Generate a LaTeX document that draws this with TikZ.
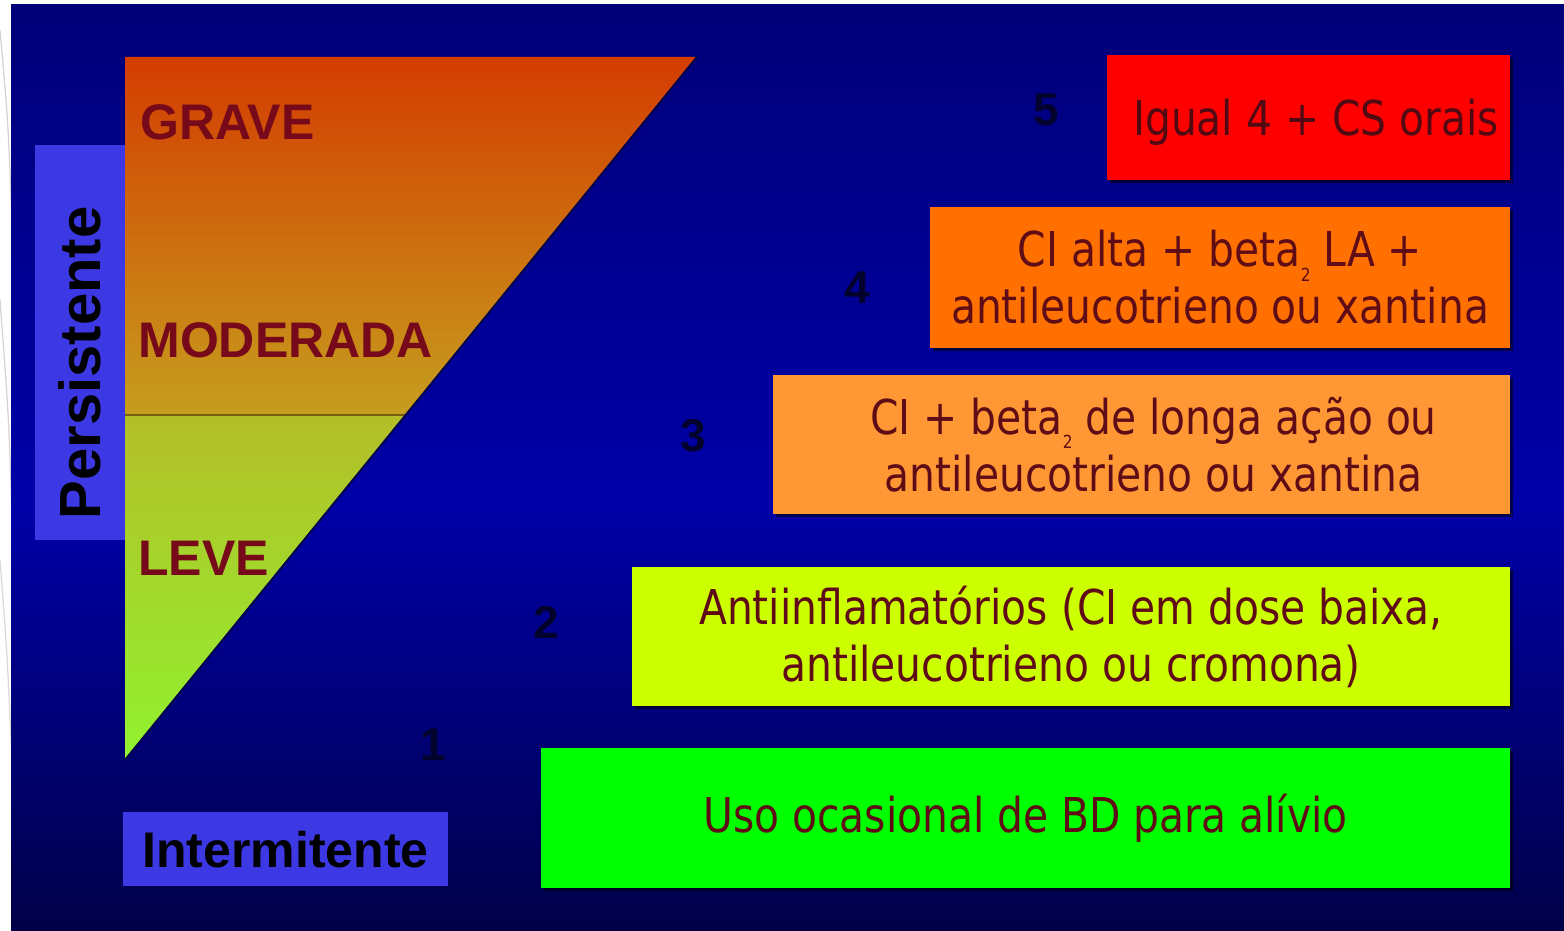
\documentclass[tikz,border=0pt]{standalone}
\usepackage{fontspec}
\setmainfont{Liberation Sans}
\newfontfamily\boxfont[FakeStretch=0.85]{DejaVu Sans}
\usetikzlibrary{shadows}
\definecolor{bgtop}{RGB}{0,0,120}
\definecolor{bgmid}{RGB}{0,0,168}
\definecolor{bgbot}{RGB}{0,0,72}
\definecolor{triA}{RGB}{212,60,0}
\definecolor{triB}{RGB}{198,158,30}
\definecolor{triC}{RGB}{180,190,40}
\definecolor{triD}{RGB}{145,242,48}
\definecolor{catfill}{RGB}{60,56,228}
\definecolor{lvltext}{RGB}{118,10,26}
\definecolor{boxtext}{RGB}{95,12,22}
\definecolor{numcol}{RGB}{2,2,45}
\definecolor{c5}{RGB}{255,0,0}
\definecolor{c4}{RGB}{255,112,0}
\definecolor{c3}{RGB}{255,152,52}
\definecolor{c2}{RGB}{204,255,0}
\definecolor{c1}{RGB}{0,255,0}
\pgfdeclareverticalshading{bgshade}{100bp}{color(0bp)=(bgbot); color(25bp)=(bgbot); color(48bp)=(bgmid); color(75bp)=(bgtop); color(100bp)=(bgtop)}
\newcommand{\betatwo}{beta\raisebox{-0.3em}{\fontsize{9}{9}\selectfont 2}}
\tikzset{
  boxlabel/.style={draw=none, inner sep=0pt, align=center, text=boxtext,
    font=\boxfont\fontsize{24}{28.5}\selectfont},
  stepbox/.style={boxlabel,
    general shadow={fill=black, opacity=0.55, shadow xshift=1.5pt, shadow yshift=-1.5pt}},
  catbox/.style={fill=catfill, inner sep=0pt},
  cattext/.style={font=\bfseries\fontsize{25}{25}\selectfont, text=black, inner sep=0pt},
  lvl/.style={font=\bfseries\fontsize{25}{25}\selectfont, text=lvltext, anchor=west, inner sep=0pt},
  num/.style={font=\bfseries\fontsize{23}{23}\selectfont, text=numcol, inner sep=0pt}
}
\begin{document}
\begin{tikzpicture}[x=0.5pt, y=-0.5pt]
\useasboundingbox (0,0) rectangle (1564,931);
% page and decorative strip
\fill[white] (0,0) rectangle (1564,931);
\begin{scope}
  \clip (0,0) rectangle (12,931);
  \draw[gray!35, line width=0.6pt] (0,30) .. controls (8,120) .. (12,220);
  \draw[gray!35, line width=0.6pt] (0,300) .. controls (9,420) .. (12,520);
  \draw[gray!30, line width=0.6pt] (0,560) .. controls (7,650) .. (12,760);
\end{scope}
% background
\shade[shading=bgshade] (11,5) rectangle (1564,931);
% triangle of severity
\begin{scope}
  \clip (125,57) -- (697,57) -- (125,760) -- cycle;
  \shade[top color=triA, bottom color=triB] (125,57) rectangle (697,415);
  \shade[top color=triC, bottom color=triD] (125,415) rectangle (697,760);
  \draw[black!40!triB, line width=0.6pt] (125,415) -- (697,415);
\end{scope}
\draw[black!70!blue, line width=1pt] (697,57) -- (125,760);
% category boxes
\node[catbox, minimum width=45pt, minimum height=197.5pt] (pers) at (80,342.5) {};
\node[cattext, rotate=90, font=\bfseries\fontsize{29}{29}\selectfont] (perstxt) at (80,363) {Persistente};
\node[catbox, minimum width=162.5pt, minimum height=37pt] (inter) at (285.5,849) {};
\node[cattext] (intertxt) at (285.5,850) {Intermitente};
% severity labels
\node[lvl] (grave) at (140,122) {GRAVE};
\node[lvl] (moder) at (138,340) {MODERADA};
\node[lvl] (leve) at (138,558) {LEVE};
% step numbers
\node[num] (n5) at (1046,110) {5};
\node[num] (n4) at (857,288) {4};
\node[num] (n3) at (693,436) {3};
\node[num] (n2) at (546,622) {2};
\node[num] (n1) at (433,745) {1};
% treatment boxes
\node[stepbox, fill=c5, minimum width=201.5pt, minimum height=62.5pt] (b5) at (1308.5,117.5) {};
\node[boxlabel, text=boxtext!85!black] (b5txt) at (1316,122) {Igual 4 + CS orais};
\node[stepbox, fill=c4, minimum width=290pt, minimum height=70.5pt] (b4) at (1220,277.5) {CI alta + \betatwo{} LA +\\antileucotrieno ou xantina};
\node[stepbox, fill=c3, minimum width=368.5pt, minimum height=69.5pt] (b3) at (1141.5,444.5) {\hspace*{12pt}CI + \betatwo{} de longa ação ou\\\hspace*{12pt}antileucotrieno ou xantina};
\node[stepbox, fill=c2, minimum width=439pt, minimum height=69.5pt] (b2) at (1071,636.5) {Antiinflamatórios (CI em dose baixa,\\antileucotrieno ou cromona)};
\node[stepbox, fill=c1, minimum width=484.5pt, minimum height=70pt] (b1) at (1025.5,818) {Uso ocasional de BD para alívio};
\end{tikzpicture}
\end{document}
